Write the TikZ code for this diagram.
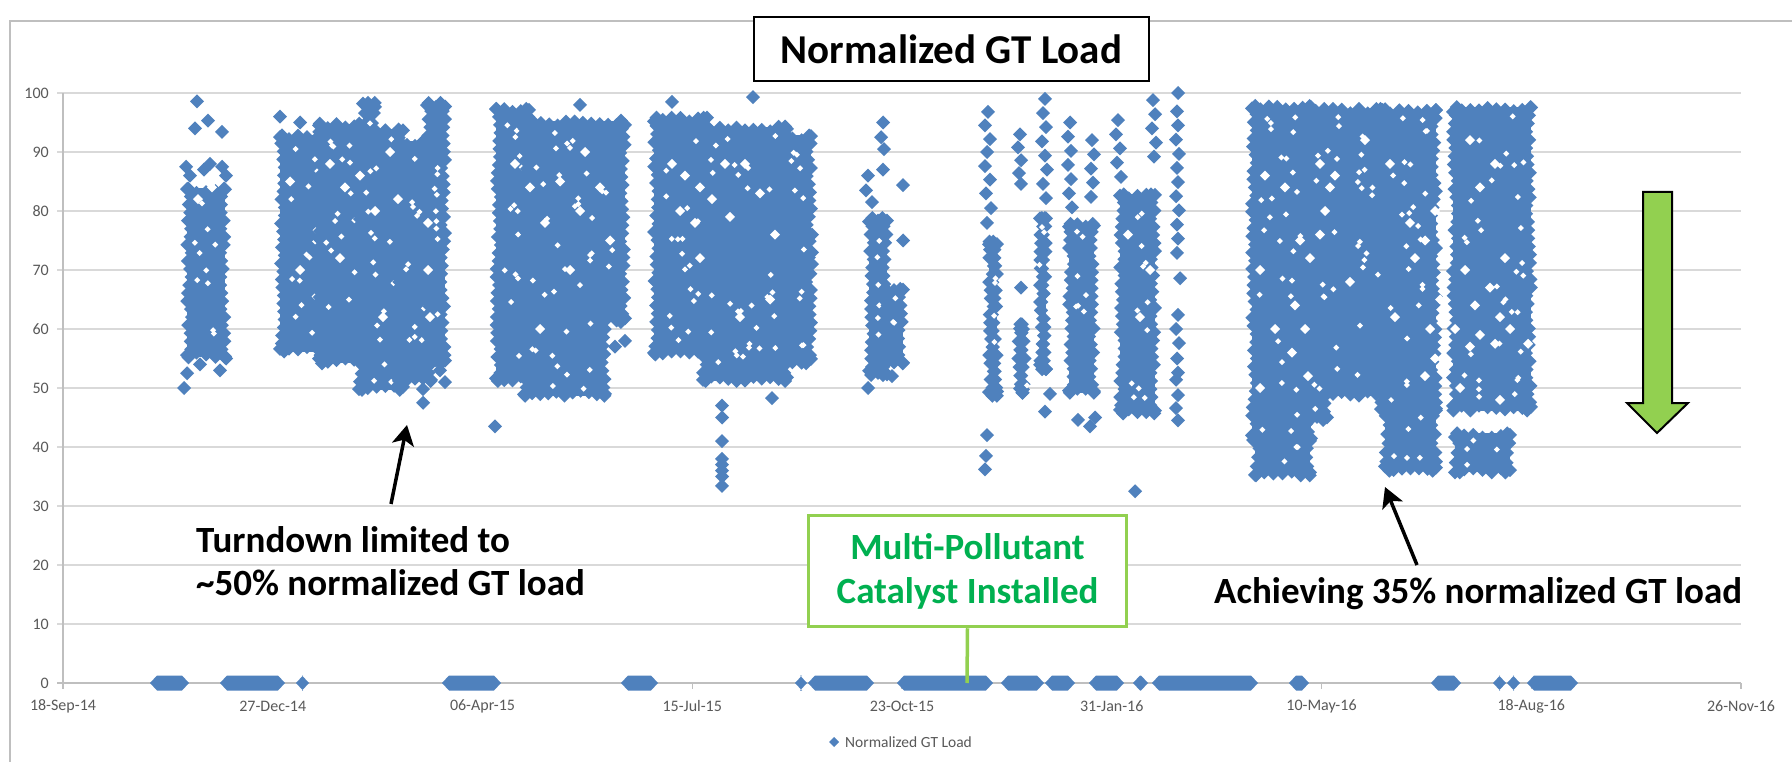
\documentclass[tikz,border=0pt]{standalone}
\usepackage{fontspec}
\setmainfont{Carlito}
\usetikzlibrary{arrows.meta}
\definecolor{dblue}{HTML}{4F81BD}
\definecolor{gridc}{HTML}{D9D9D9}
\definecolor{axisc}{HTML}{BFBFBF}
\definecolor{lbl}{HTML}{595959}
\definecolor{lgreen}{HTML}{92D050}
\definecolor{tgreen}{HTML}{00B050}
\newcommand\dmd[2]{\fill[dblue] ({#1},{#2}) +(-7,0) -- +(0,-7) -- +(7,0) -- +(0,7) -- cycle;}
\newcommand\dpt[2]{\dmd{#1}{683-5.9*(#2)}}
\newcommand\dhole[2]{\fill[white] ({#1},{683-5.9*(#2)}) +(-5,0) -- +(0,-5) -- +(5,0) -- +(0,5) -- cycle;}
\newcommand\zrow[2]{\fill[dblue] (#1,683) -- (#1+7,675.5) -- (#2-7,675.5) -- (#2,683) -- (#2-7,690.5) -- (#1+7,690.5) -- cycle;}
\newcommand\blob[4]{%
  \pgfmathsetmacro\bxa{#1}\pgfmathsetmacro\bxb{#2}%
  \pgfmathsetmacro\bya{683-5.9*(#3)}\pgfmathsetmacro\byb{683-5.9*(#4)}%
  \fill[dblue] (\bxa+7,\bya+7) rectangle (\bxb-7,\byb-7);%
  \pgfmathtruncatemacro\nx{max(1,(\bxb-\bxa-14)/8)}%
  \pgfmathtruncatemacro\ny{max(1,(\byb-\bya-14)/8)}%
  \foreach \k in {0,...,\nx}{%
    \pgfmathsetmacro\px{\bxa+7+\k*(\bxb-\bxa-14)/\nx}%
    \dmd{\px}{\bya+7+rnd*5}%
    \dmd{\px}{\byb-7-rnd*5}%
  }%
  \foreach \k in {0,...,\ny}{%
    \pgfmathsetmacro\py{\bya+7+\k*(\byb-\bya-14)/\ny}%
    \dmd{\bxa+7+rnd*5}{\py}%
    \dmd{\bxb-7-rnd*5}{\py}%
  }%
  \pgfmathtruncatemacro\nh{((\bxb-\bxa)/30)*((\byb-\bya)/30)}%
  \ifnum\nh>0
  \foreach \k in {1,...,\nh}{%
    \fill[white] ({\bxa+14+rnd*(\bxb-\bxa-28)},{\bya+14+rnd*(\byb-\bya-28)}) +(-3,0) -- +(0,-3) -- +(3,0) -- +(0,3) -- cycle;%
  }%
  \fi
}
\tikzset{
  ylab/.style={anchor=east,text=lbl,font=\fontsize{16}{18}\selectfont,inner sep=0pt},
  xlab/.style={anchor=center,text=lbl,font=\fontsize{16}{18}\selectfont,inner sep=0pt},
  annot/.style={anchor=base west,inner sep=0pt,font=\fontsize{37}{44}\selectfont\bfseries},
  blackarrow/.style={line width=3.5pt,-{Stealth[length=20pt,width=22pt,inset=5pt]}},
}
\begin{document}
\begin{tikzpicture}[x=1pt,y=-1pt]
\pgfmathsetseed{7}
\useasboundingbox (0,0) rectangle (1792,762);
\fill[white] (0,0) rectangle (1792,762);
% chart frame
\draw[axisc,line width=1.5pt] (10,800) -- (10,21) -- (1800,21);
% gridlines
\foreach \k in {1,...,10}{
  \draw[gridc,line width=1.5pt] (57,{683-59*\k}) -- (1741,{683-59*\k});
}
\foreach \k in {0,...,10}{
  \pgfmathtruncatemacro\lv{10*\k}
  \node[ylab] (yl\k) at (49,{683-59*\k}) {\lv};
}
\draw[axisc,line width=1.5pt] (63,93) -- (63,689);
\draw[axisc,line width=1.5pt] (57,683) -- (1741,683);
\foreach \k/\t in {0/18-Sep-14,1/27-Dec-14,2/06-Apr-15,3/15-Jul-15,4/23-Oct-15,5/31-Jan-16,6/10-May-16,7/18-Aug-16,8/26-Nov-16}{
  \draw[axisc,line width=1.5pt] ({63+209.75*\k},683) -- ({63+209.75*\k},689);
  \node[xlab] (xl\k) at ({63+209.75*\k},706) {\t};
}
% legend
\fill[dblue] (834,742) +(-5,0) -- +(0,-5) -- +(5,0) -- +(0,5) -- cycle;
\node[anchor=west,text=lbl,font=\fontsize{15.5}{17}\selectfont,inner sep=0pt] (legend) at (845,742) {Normalized GT Load};
% zero rows
\zrow{150}{189}\zrow{220}{285}\zrow{296}{309}\zrow{442}{501}\zrow{621}{658}
\zrow{795}{807}\zrow{808}{874}\zrow{897}{993}\zrow{1001}{1044}\zrow{1045}{1075}
\zrow{1089}{1124}\zrow{1133}{1148}\zrow{1152}{1258}\zrow{1289}{1309}\zrow{1431}{1461}
\zrow{1493}{1506}\zrow{1507}{1520}\zrow{1527}{1578}
% cluster A
\blob{180}{232}{85}{54}
\foreach \a/\b in {186/87.5,190/86,204/87,210/88,222/87.5,226/86,197/98.6,208/95.3,195/94,222/93.4,184/50,187/52.5,200/54,226/55,220/53}{\dpt{\a}{\b}}
\foreach \a/\b in {198/82,212/84}{\dhole{\a}{\b}}
% cluster B
\blob{273}{332}{94}{55}
\blob{312}{370}{96}{53}
\blob{352}{410}{95}{48.5}
\blob{356}{382}{99.5}{92}
\blob{392}{438}{93}{50}
\blob{420}{452}{99.5}{53}
\foreach \a/\b in {423/49.8,423/47.5,280/96,300/95,440/53,445/51}{\dpt{\a}{\b}}
\foreach \a/\b in {330/88,345/84,360/86,375/80,390/90,398/82,428/78,428/70,430/62,300/70,340/72,290/85,383/62}{\dhole{\a}{\b}}
% cluster C
\blob{489}{536}{98.5}{50}
\blob{517}{632}{96.5}{60}
\blob{517}{612}{64}{47.5}
\foreach \a/\b in {495/43.5,580/98,615/57,625/58}{\dpt{\a}{\b}}
\foreach \a/\b in {515/88,530/84,560/85,585/90,580/80,600/84,545/78,570/70,610/75,540/60}{\dhole{\a}{\b}}
% cluster D
\blob{647}{714}{97}{54.5}
\blob{696}{794}{95.5}{50}
\blob{776}{818}{94}{53}
\foreach \a/\b in {672/98.5,753/99.3,772/48.3,812/76,812/73,812/71,722/47,722/45,722/41,722/38,722/37,722/36,722/35,722/33.4}{\dpt{\a}{\b}}
\foreach \a/\b in {672/88,685/86,700/84,680/80,712/82,725/88,730/79,695/78,760/83,775/76,745/88,700/72,770/65,740/62}{\dhole{\a}{\b}}
% cluster E
\blob{862}{894}{80}{51}
\blob{878}{910}{68}{53}
\foreach \a/\b in {883/95,881/92.5,884/90.5,883/87,868/86,866/83.5,872/81.5,903/84.4,903/75,868/50,892/52}{\dpt{\a}{\b}}
% cluster F
\blob{982}{1004}{76}{47.5}
\foreach \a/\b in {988/96.8,985/94.5,990/92.2,987/90,985/87.6,990/85.3,986/83,991/80.5,987/78,987/42,986/38.5,985/36.2}{\dpt{\a}{\b}}
\blob{1013}{1030}{62}{48}
\foreach \a/\b in {1020/93,1018/90.8,1021/88.6,1019/86.4,1021/84.6,1021/67}{\dpt{\a}{\b}}
\blob{1033}{1053}{80}{52}
\foreach \a/\b in {1045/99,1043/96.6,1046/94.2,1042/91.8,1045/89.4,1047/87,1043/84.6,1046/82.2,1050/49,1045/46}{\dpt{\a}{\b}}
\blob{1062}{1101}{79}{48}
\foreach \a/\b in {1070/95,1068/92.6,1071/90.2,1068/87.8,1071/85.4,1069/83,1072/80.6,1092/92,1094/89.6,1091/87.2,1093/84.8,1091/82.4,1078/44.6,1090/43.5,1095/45}{\dpt{\a}{\b}}
\blob{1113}{1162}{84}{44.5}
\foreach \a/\b in {1118/95.4,1116/93,1120/90.6,1117/88.2,1121/85.8,1153/98.8,1155/96.4,1152/94,1156/91.6,1154/89.2,1135/32.5}{\dpt{\a}{\b}}
\foreach \a/\b in {1140/62,1150/70,1128/76}{\dhole{\a}{\b}}
\foreach \a/\b in {1178/100,1177/96.9,1178/94.5,1176/92.1,1179/89.7,1177/87.3,1178/84.9,1176/82.5,1179/80.1,1177/77.7,1178/75.3,1177/72.9,1180/68.6,1178/62.4,1176/60,1179/57.6,1177/55,1178/52.6,1176/51.4,1178/48.8,1176/46.6,1178/44.5}{\dpt{\a}{\b}}
% cluster G
\blob{1245}{1318}{99}{40}
\blob{1248}{1317}{42.5}{34}
\blob{1300}{1392}{98.5}{47.5}
\blob{1300}{1334}{57}{43.4}
\blob{1374}{1443}{98.3}{45}
\blob{1378}{1443}{48}{34.8}
\foreach \a/\b in {1320/88,1330/84,1325/80,1335/86,1300/75,1310/72,1320/76,1410/78,1425/75,1435/80,1415/72,1295/64,1305/60,1292/56,1308/52,1265/86,1285/84,1430/60,1435/55,1425/52,1440/65,1260/70,1275/60,1350/68,1365/92,1395/62,1390/88,1260/50}{\dhole{\a}{\b}}
% cluster H
\blob{1446}{1538}{98.8}{45}
\blob{1448}{1517}{43.5}{34.5}
\foreach \a/\b in {1465/70,1490/67,1505/72,1475/64,1500/62,1455/60,1480/59,1510/60,1470/57,1495/57.5,1470/92,1495/88,1480/84,1528/57.5,1460/50,1500/48}{\dhole{\a}{\b}}
% title
\node[draw=black,line width=2pt,fill=white,minimum width=395pt,minimum height=64pt,inner sep=0pt,font=\fontsize{41}{48}\selectfont\bfseries] (title) at (951.5,49) {Normalized GT Load};
% annotations
\node[annot] (turn1) at (196,552) {Turndown limited to};
\node[annot] (turn2) at (196,595) {\char`\~50\% normalized GT load};
\node[annot] (achieve) at (1214,603) {Achieving 35\% normalized GT load};
\coordinate (a1s) at (391,504);
\coordinate (a1e) at (407,425);
\draw[blackarrow] (a1s) -- (a1e);
\coordinate (a2s) at (1417,565);
\coordinate (a2e) at (1385,487);
\draw[blackarrow] (a2s) -- (a2e);
% green box
\node[draw=lgreen,line width=3.5pt,fill=white,minimum width=318pt,minimum height=111pt,inner sep=0pt,align=center,text=tgreen,font=\fontsize{37}{44}\selectfont\bfseries] (catalyst) at (967.5,571) {Multi-Pollutant\\Catalyst Installed};
\coordinate (cat0) at (967,683);
\draw[lgreen,line width=3.5pt] (catalyst.south) -- (cat0);
% green arrow
\draw[fill=lgreen,draw=black,line width=2pt] (1643,192) -- (1672,192) -- (1672,403) -- (1688,403) -- (1657,433) -- (1627,403) -- (1643,403) -- cycle;
\end{tikzpicture}
\end{document}
